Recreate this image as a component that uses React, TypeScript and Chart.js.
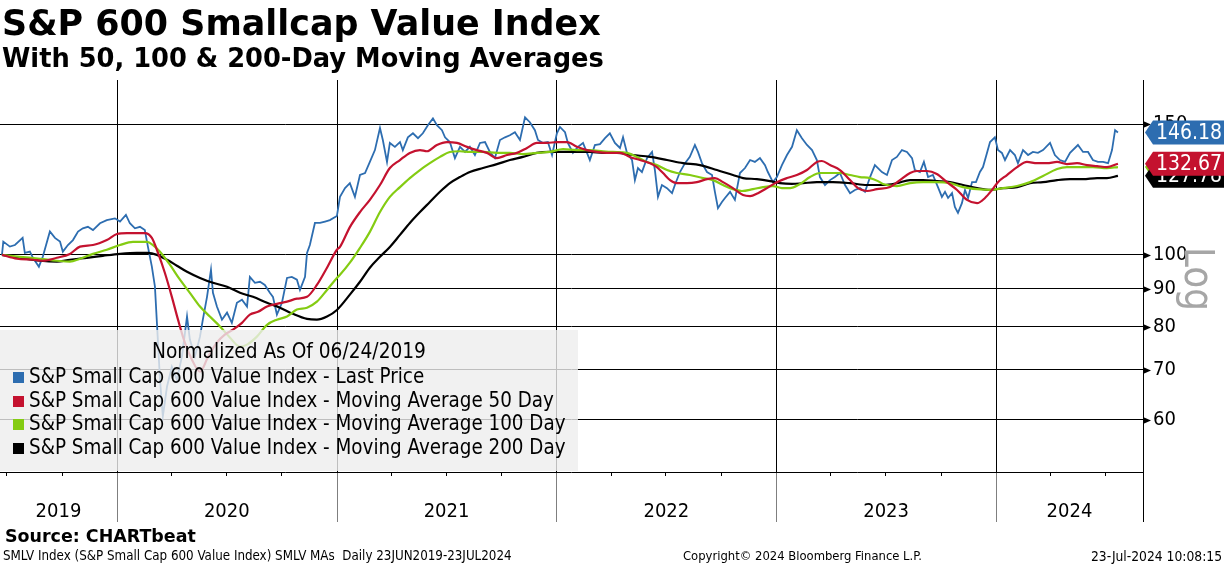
import { useEffect, useRef } from "react";
import { Chart, registerables } from "chart.js";

Chart.register(...registerables);

// ---------- DATA (time as decimal years) ----------
const priceDates = [
  2019.477, 2019.483, 2019.513, 2019.536, 2019.571, 2019.581, 2019.604, 2019.618, 2019.645, 2019.663,
  2019.695, 2019.718, 2019.741, 2019.754, 2019.777, 2019.8, 2019.823, 2019.845, 2019.868, 2019.891,
  2019.923, 2019.954, 2019.991, 2020.014, 2020.041, 2020.059, 2020.082, 2020.105, 2020.127, 2020.141,
  2020.159, 2020.173, 2020.182, 2020.196, 2020.209, 2020.228, 2020.25, 2020.273, 2020.296, 2020.319,
  2020.332, 2020.355, 2020.378, 2020.391, 2020.41, 2020.428, 2020.437, 2020.455, 2020.478, 2020.501,
  2020.523, 2020.546, 2020.569, 2020.592, 2020.605, 2020.628, 2020.651, 2020.673, 2020.696, 2020.71,
  2020.728, 2020.751, 2020.774, 2020.796, 2020.819, 2020.833, 2020.856, 2020.865, 2020.878, 2020.901,
  2020.924, 2020.947, 2020.969, 2021.001, 2021.015, 2021.038, 2021.06, 2021.083, 2021.106, 2021.129,
  2021.151, 2021.174, 2021.197, 2021.21, 2021.229, 2021.242, 2021.265, 2021.288, 2021.301, 2021.324,
  2021.347, 2021.37, 2021.392, 2021.415, 2021.438, 2021.456, 2021.479, 2021.493, 2021.515, 2021.538,
  2021.561, 2021.584, 2021.606, 2021.629, 2021.652, 2021.675, 2021.697, 2021.72, 2021.743, 2021.766,
  2021.788, 2021.811, 2021.834, 2021.857, 2021.879, 2021.902, 2021.916, 2021.939, 2021.961, 2021.98,
  2022.002, 2022.016, 2022.039, 2022.052, 2022.075, 2022.098, 2022.121, 2022.152, 2022.175, 2022.198,
  2022.221, 2022.243, 2022.266, 2022.289, 2022.303, 2022.321, 2022.344, 2022.357, 2022.371, 2022.389,
  2022.412, 2022.435, 2022.448, 2022.462, 2022.48, 2022.503, 2022.526, 2022.539, 2022.562, 2022.585,
  2022.607, 2022.63, 2022.644, 2022.662, 2022.685, 2022.708, 2022.721, 2022.735, 2022.753, 2022.767,
  2022.79, 2022.812, 2022.835, 2022.858, 2022.881, 2022.903, 2022.926, 2022.949, 2022.962, 2022.985,
  2023.003, 2023.026, 2023.049, 2023.072, 2023.094, 2023.117, 2023.14, 2023.163, 2023.185, 2023.199,
  2023.222, 2023.245, 2023.267, 2023.29, 2023.313, 2023.336, 2023.358, 2023.381, 2023.404, 2023.427,
  2023.449, 2023.463, 2023.481, 2023.504, 2023.527, 2023.549, 2023.572, 2023.595, 2023.618, 2023.631,
  2023.654, 2023.672, 2023.691, 2023.713, 2023.736, 2023.754, 2023.768, 2023.782, 2023.8, 2023.813,
  2023.827, 2023.845, 2023.859, 2023.873, 2023.891, 2023.909, 2023.927, 2023.941, 2023.959, 2023.973,
  2023.995, 2024.009, 2024.027, 2024.041, 2024.064, 2024.086, 2024.1, 2024.123, 2024.146, 2024.168,
  2024.191, 2024.214, 2024.246, 2024.268, 2024.291, 2024.314, 2024.337, 2024.373, 2024.396, 2024.419,
  2024.441, 2024.464, 2024.487, 2024.51, 2024.528, 2024.542, 2024.555,
];
const priceValues = [
  100.0, 104.2, 102.6, 103.1, 105.4, 100.6, 101.0, 99.1, 96.4, 99.5,
  107.5, 105.4, 104.2, 101.0, 103.1, 104.7, 107.5, 108.6, 109.1, 108.0,
  110.3, 111.4, 112.0, 110.9, 113.2, 110.3, 108.6, 109.1, 108.0, 102.6,
  96.4, 90.6, 81.0, 67.9, 60.6, 66.5, 70.7, 67.9, 73.0, 82.6,
  76.9, 73.0, 77.6, 81.8, 87.8, 95.5, 88.9, 85.2, 81.8, 83.6,
  81.0, 86.2, 87.0, 85.2, 93.4, 91.7, 92.0, 91.1, 88.9, 87.8,
  83.1, 86.2, 93.1, 93.4, 92.6, 89.7, 93.4, 100.6, 103.1, 110.4,
  110.4, 110.9, 111.4, 112.8, 119.7, 123.0, 124.9, 119.7, 128.1, 128.9,
  133.4, 138.4, 148.2, 142.8, 133.4, 141.5, 139.8, 141.9, 138.4, 144.0,
  145.8, 143.6, 145.8, 149.5, 152.7, 149.5, 147.2, 144.0, 141.9, 135.0,
  139.8, 137.6, 139.8, 136.3, 141.5, 141.9, 137.6, 135.0, 142.8, 144.0,
  144.9, 146.3, 142.8, 153.2, 150.9, 147.2, 142.8, 141.5, 141.9, 136.3,
  145.8, 148.7, 146.3, 141.5, 137.2, 139.8, 141.5, 134.2, 140.6, 141.0,
  143.6, 145.8, 141.5, 139.3, 144.0, 137.2, 134.2, 126.1, 130.9, 129.3,
  135.0, 137.6, 130.1, 119.7, 124.2, 123.0, 121.1, 124.2, 129.3, 132.9,
  135.5, 140.6, 137.6, 132.9, 129.3, 128.1, 121.6, 115.6, 117.8, 119.3,
  121.6, 118.6, 128.9, 130.9, 134.2, 133.4, 135.0, 132.1, 129.3, 125.3,
  127.3, 132.1, 136.3, 139.8, 147.2, 143.6, 140.6, 138.4, 134.2, 127.3,
  124.2, 126.1, 127.3, 128.9, 124.2, 121.1, 122.3, 123.0, 121.6, 127.3,
  132.1, 130.9, 129.3, 128.1, 134.2, 135.5, 138.4, 137.6, 135.0, 130.1,
  129.3, 133.4, 127.3, 128.1, 123.4, 119.7, 121.6, 119.3, 121.1, 116.0,
  113.9, 117.4, 122.3, 119.3, 125.3, 125.3, 129.3, 131.3, 137.2, 141.9,
  144.0, 138.4, 137.2, 134.2, 138.4, 136.3, 132.9, 138.4, 136.3, 137.6,
  137.2, 138.4, 141.5, 136.3, 134.2, 133.4, 137.2, 140.6, 137.6, 137.6,
  134.2, 133.4, 133.4, 132.9, 138.4, 147.2, 146.18,
];

const ma50Dates = [
  2019.477, 2019.545, 2019.618, 2019.663, 2019.727, 2019.786, 2019.832, 2019.891, 2019.954, 2020.0,
  2020.046, 2020.091, 2020.127, 2020.159, 2020.187, 2020.218, 2020.25, 2020.278, 2020.309, 2020.341,
  2020.378, 2020.414, 2020.455, 2020.491, 2020.528, 2020.569, 2020.605, 2020.642, 2020.683, 2020.728,
  2020.774, 2020.819, 2020.865, 2020.91, 2020.956, 2021.001, 2021.015, 2021.06, 2021.106, 2021.151,
  2021.197, 2021.242, 2021.288, 2021.333, 2021.379, 2021.411, 2021.456, 2021.502, 2021.547, 2021.593,
  2021.638, 2021.684, 2021.729, 2021.775, 2021.82, 2021.866, 2021.911, 2021.957, 2022.002, 2022.048,
  2022.093, 2022.139, 2022.184, 2022.23, 2022.289, 2022.334, 2022.38, 2022.426, 2022.457, 2022.485,
  2022.517, 2022.548, 2022.594, 2022.639, 2022.685, 2022.721, 2022.758, 2022.803, 2022.849, 2022.881,
  2022.917, 2022.958, 2023.003, 2023.049, 2023.094, 2023.14, 2023.185, 2023.208, 2023.245, 2023.29,
  2023.336, 2023.372, 2023.413, 2023.458, 2023.518, 2023.563, 2023.609, 2023.64, 2023.686, 2023.731,
  2023.777, 2023.823, 2023.868, 2023.914, 2023.95, 2023.982, 2024.009, 2024.05, 2024.096, 2024.141,
  2024.187, 2024.232, 2024.278, 2024.323, 2024.369, 2024.414, 2024.46, 2024.505, 2024.555,
];
const ma50Values = [
  100.0, 98.8, 98.5, 98.2, 99.1, 100.3, 102.6, 103.1, 104.7, 106.7,
  107.0, 107.0, 107.0, 105.4, 100.6, 94.6, 87.8, 81.8, 76.2, 72.3,
  69.6, 72.8, 76.2, 78.1, 79.3, 81.0, 83.1, 83.8, 85.2, 85.9,
  86.5, 87.3, 87.8, 91.1, 96.1, 101.6, 102.5, 109.0, 114.2, 118.6,
  124.2, 130.9, 134.2, 137.2, 138.4, 137.9, 140.6, 141.9, 141.5, 139.8,
  138.4, 137.2, 135.0, 136.3, 137.2, 139.3, 141.5, 141.5, 141.9, 141.9,
  139.8, 138.4, 137.6, 137.2, 137.2, 135.5, 134.2, 132.9, 131.3, 128.9,
  126.1, 124.9, 124.9, 125.3, 126.5, 126.9, 125.3, 123.0, 120.4, 120.0,
  121.1, 123.0, 125.3, 126.9, 128.1, 130.1, 133.4, 133.8, 132.1, 130.1,
  126.1, 123.0, 121.9, 122.6, 123.4, 126.1, 128.9, 129.7, 129.7, 128.5,
  125.3, 122.3, 118.6, 117.4, 119.3, 122.3, 125.3, 128.1, 131.3, 133.4,
  132.9, 132.9, 133.4, 132.5, 132.9, 132.1, 131.7, 131.3, 132.67,
];

const ma100Dates = [
  2019.477, 2019.559, 2019.65, 2019.727, 2019.786, 2019.832, 2019.891, 2019.954, 2020.014, 2020.073,
  2020.137, 2020.164, 2020.196, 2020.241, 2020.287, 2020.332, 2020.378, 2020.423, 2020.469, 2020.514,
  2020.56, 2020.592, 2020.637, 2020.683, 2020.728, 2020.774, 2020.819, 2020.865, 2020.91, 2020.956,
  2021.001, 2021.015, 2021.06, 2021.106, 2021.151, 2021.197, 2021.242, 2021.288, 2021.333, 2021.379,
  2021.424, 2021.47, 2021.515, 2021.561, 2021.606, 2021.666, 2021.729, 2021.788, 2021.848, 2021.911,
  2021.97, 2022.03, 2022.093, 2022.152, 2022.212, 2022.257, 2022.321, 2022.366, 2022.412, 2022.457,
  2022.503, 2022.548, 2022.607, 2022.667, 2022.712, 2022.758, 2022.803, 2022.844, 2022.894, 2022.94,
  2022.985, 2023.026, 2023.063, 2023.108, 2023.154, 2023.199, 2023.245, 2023.29, 2023.336, 2023.381,
  2023.427, 2023.463, 2023.486, 2023.549, 2023.609, 2023.668, 2023.731, 2023.791, 2023.85, 2023.914,
  2023.973, 2024.032, 2024.096, 2024.155, 2024.214, 2024.278, 2024.323, 2024.382, 2024.441, 2024.505,
  2024.555,
];
const ma100Values = [
  100.0, 99.4, 98.8, 98.2, 97.9, 98.8, 100.3, 101.6, 103.1, 104.1,
  104.1, 103.1, 101.0, 97.0, 92.6, 88.9, 85.2, 82.6, 80.1, 77.4,
  75.2, 75.7, 77.6, 80.5, 81.8, 82.6, 84.4, 84.9, 86.5, 89.7,
  93.1, 94.0, 97.6, 102.2, 107.4, 114.2, 119.7, 123.4, 126.9, 130.1,
  132.9, 135.5, 137.6, 137.9, 137.6, 137.6, 137.2, 137.2, 136.7, 137.2,
  137.6, 138.8, 138.4, 138.4, 137.9, 137.6, 137.2, 135.5, 133.4, 132.1,
  130.1, 128.9, 128.1, 126.9, 126.1, 124.2, 122.6, 121.9, 122.6, 123.4,
  123.8, 123.0, 123.0, 124.6, 127.3, 128.9, 128.9, 128.9, 128.1, 127.3,
  126.9, 125.7, 124.6, 123.8, 124.9, 125.3, 125.3, 124.9, 123.4, 122.6,
  122.3, 123.0, 123.8, 125.3, 127.7, 130.5, 131.3, 131.3, 131.3, 130.9,
  131.3,
];

const ma200Dates = [
  2019.477, 2019.559, 2019.65, 2019.727, 2019.786, 2019.863, 2019.936, 2020.014, 2020.091, 2020.141,
  2020.182, 2020.228, 2020.273, 2020.319, 2020.378, 2020.437, 2020.501, 2020.56, 2020.619, 2020.683,
  2020.742, 2020.801, 2020.865, 2020.91, 2020.956, 2021.001, 2021.06, 2021.106, 2021.151, 2021.197,
  2021.242, 2021.288, 2021.333, 2021.379, 2021.424, 2021.47, 2021.515, 2021.561, 2021.606, 2021.666,
  2021.729, 2021.788, 2021.848, 2021.911, 2021.97, 2022.03, 2022.093, 2022.152, 2022.212, 2022.275,
  2022.348, 2022.426, 2022.503, 2022.576, 2022.653, 2022.73, 2022.803, 2022.849, 2022.912, 2022.972,
  2023.017, 2023.072, 2023.122, 2023.185, 2023.258, 2023.336, 2023.413, 2023.486, 2023.549, 2023.609,
  2023.668, 2023.731, 2023.791, 2023.85, 2023.914, 2023.973, 2024.032, 2024.096, 2024.155, 2024.214,
  2024.278, 2024.337, 2024.396, 2024.46, 2024.505, 2024.555,
];
const ma200Values = [
  100.0, 99.1, 98.2, 97.9, 98.5, 99.1, 99.7, 100.3, 100.6, 100.6,
  100.0, 98.5, 96.7, 94.9, 93.1, 91.7, 90.6, 88.9, 87.8, 86.2,
  84.9, 83.3, 82.0, 81.8, 82.6, 84.3, 88.4, 92.0, 96.1, 99.4,
  102.5, 106.4, 110.4, 114.2, 117.8, 121.6, 124.9, 127.3, 129.3, 130.9,
  132.5, 134.2, 135.5, 137.2, 137.6, 137.6, 137.6, 137.6, 137.2, 137.2,
  136.3, 135.5, 134.2, 132.9, 132.1, 130.1, 128.1, 126.9, 126.5, 125.7,
  124.9, 124.6, 124.9, 125.3, 125.3, 124.9, 124.2, 124.2, 124.9, 126.1,
  126.1, 125.7, 125.3, 124.2, 123.0, 122.3, 123.0, 123.4, 124.9, 125.3,
  126.1, 126.5, 126.5, 126.9, 126.9, 127.78,
];

const yTicks = [60, 70, 80, 90, 100, 150];
const years = [2019, 2020, 2021, 2022, 2023, 2024];
const quarterStarts = [0.247, 0.496, 0.748];

const seriesLabels = [
  "S&P Small Cap 600 Value Index - Last Price",
  "S&P Small Cap 600 Value Index - Moving Average 50 Day",
  "S&P Small Cap 600 Value Index - Moving Average 100 Day",
  "S&P Small Cap 600 Value Index - Moving Average 200 Day",
];
const seriesColors = ["#2d6db0", "#c4122f", "#84cc12", "#000000"];

const titleText = "S&P 600 Smallcap Value Index";
const subtitleText = "With 50, 100 & 200-Day Moving Averages";
const legendHeader = "Normalized As Of 06/24/2019";
const sourceText = "Source: CHARTbeat";
const footerLeft = "SMLV Index (S&P Small Cap 600 Value Index) SMLV MAs  Daily 23JUN2019-23JUL2024";
const footerMid = "Copyright\u00a9 2024 Bloomberg Finance L.P.";
const footerRight = "23-Jul-2024 10:08:15";

const X_MIN = 2019.468;
const X_MAX = 2024.669;
const FONT = '"DejaVu Sans Condensed", "DejaVu Sans", sans-serif';
const FONT_BOLD = '"DejaVu Sans", sans-serif';

function pts(xs: number[], ys: number[]) {
  return xs.map((x, i) => ({ x, y: ys[i] }));
}

function fitText(
  ctx: CanvasRenderingContext2D,
  text: string,
  weight: string,
  target: number,
  family: string = FONT
) {
  ctx.font = `${weight} 20px ${family}`;
  const w = ctx.measureText(text).width;
  const size = (20 * target) / w;
  ctx.font = `${weight} ${size.toFixed(2)}px ${family}`;
  return size;
}

const decorPlugin = {
  id: "decor",
  beforeDatasetsDraw(chart: any) {
    const { ctx, chartArea: a, scales } = chart;
    const x = scales.x;
    ctx.save();
    ctx.lineWidth = 1;
    for (let i = 1; i < years.length; i++) {
      const px = Math.round(x.getPixelForValue(years[i])) + 0.5;
      ctx.strokeStyle = "#000";
      ctx.beginPath();
      ctx.moveTo(px, a.top);
      ctx.lineTo(px, a.bottom);
      ctx.stroke();
    }
    ctx.restore();
  },
  afterDatasetsDraw(chart: any) {
    const { ctx, chartArea: a } = chart;
    const bx = a.left, by = 330, bw = 578, bh = a.bottom - 330 - 1;
    ctx.save();
    ctx.fillStyle = "rgba(238,238,238,0.8)";
    ctx.fillRect(bx, by, bw, bh);
    ctx.fillStyle = "#000";
    ctx.textBaseline = "middle";
    ctx.textAlign = "center";
    fitText(ctx, legendHeader, "normal", 274);
    ctx.fillText(legendHeader, bx + bw / 2, 353);
    ctx.textAlign = "left";
    const size = fitText(ctx, seriesLabels[2], "normal", 537);
    ctx.font = `normal ${size.toFixed(2)}px ${FONT}`;
    const rowsY = [377, 401, 424, 448];
    seriesLabels.forEach((lbl, i) => {
      ctx.fillStyle = seriesColors[i];
      ctx.fillRect(13, rowsY[i] - 5, 11, 11);
      ctx.fillStyle = "#000";
      ctx.fillText(lbl, 29, rowsY[i] + 1);
    });
    ctx.restore();
  },
  afterDraw(chart: any) {
    const { ctx, chartArea: a, scales, width } = chart;
    const x = scales.x, y = scales.y;
    ctx.save();
    ctx.strokeStyle = "#000";
    ctx.lineWidth = 1;
    ctx.beginPath();
    ctx.moveTo(0, a.bottom + 0.5);
    ctx.lineTo(a.right, a.bottom + 0.5);
    ctx.stroke();
    ctx.beginPath();
    ctx.moveTo(a.right + 0.5, a.top);
    ctx.lineTo(a.right + 0.5, a.bottom + 50);
    ctx.stroke();
    ctx.strokeStyle = "#7f7f7f";
    for (let i = 1; i < years.length; i++) {
      const px = Math.round(x.getPixelForValue(years[i])) + 0.5;
      ctx.beginPath();
      ctx.moveTo(px, a.bottom + 1);
      ctx.lineTo(px, a.bottom + 50);
      ctx.stroke();
    }
    ctx.strokeStyle = "#000";
    years.forEach((yr) => {
      quarterStarts.forEach((q) => {
        const v = yr + q;
        if (v <= X_MIN || v >= X_MAX) return;
        const px = Math.round(x.getPixelForValue(v)) + 0.5;
        ctx.beginPath();
        ctx.moveTo(px, a.bottom);
        ctx.lineTo(px, a.bottom + 4);
        ctx.stroke();
      });
    });
    ctx.fillStyle = "#000";
    ctx.textAlign = "center";
    ctx.textBaseline = "middle";
    ctx.font = `normal 20px ${FONT}`;
    years.forEach((yr) => {
      const l = Math.max(x.getPixelForValue(yr), a.left);
      const r = Math.min(x.getPixelForValue(yr + 1), a.right);
      ctx.fillText(String(yr), (l + r) / 2, 512);
    });
    yTicks.forEach((v) => {
      const py = Math.round(y.getPixelForValue(v)) + 0.5;
      ctx.beginPath();
      ctx.moveTo(a.right, py - 3.5);
      ctx.lineTo(a.right + 8, py);
      ctx.lineTo(a.right, py + 3.5);
      ctx.closePath();
      ctx.fill();
    });
    ctx.save();
    ctx.translate(1185, 247);
    ctx.rotate(Math.PI / 2);
    ctx.fillStyle = "#a6a6a6";
    ctx.textAlign = "left";
    ctx.textBaseline = "alphabetic";
    ctx.font = `normal 40px ${FONT}`;
    ctx.fillText("Log", 0, 0);
    ctx.restore();
    const lasts = [
      { v: ma100Values[ma100Values.length - 1], c: seriesColors[2] },
      { v: ma200Values[ma200Values.length - 1], c: seriesColors[3] },
      { v: ma50Values[ma50Values.length - 1], c: seriesColors[1] },
      { v: priceValues[priceValues.length - 1], c: seriesColors[0] },
    ];
    lasts.forEach(({ v, c }) => {
      const yc = y.getPixelForValue(v);
      ctx.fillStyle = c;
      ctx.beginPath();
      ctx.moveTo(a.right + 2, yc);
      ctx.lineTo(a.right + 10, yc - 12);
      ctx.lineTo(width, yc - 12);
      ctx.lineTo(width, yc + 12);
      ctx.lineTo(a.right + 10, yc + 12);
      ctx.closePath();
      ctx.fill();
      ctx.fillStyle = "#fff";
      ctx.textAlign = "left";
      ctx.textBaseline = "middle";
      ctx.font = `normal 21px ${FONT}`;
      ctx.fillText(v.toFixed(2), a.right + 13, yc + 1);
    });
    ctx.fillStyle = "#000";
    ctx.textAlign = "left";
    ctx.textBaseline = "alphabetic";
    fitText(ctx, titleText, "bold", 599, FONT_BOLD);
    ctx.fillText(titleText, 2, 35);
    fitText(ctx, subtitleText, "bold", 602, FONT_BOLD);
    ctx.fillText(subtitleText, 2, 67);
    ctx.textBaseline = "middle";
    fitText(ctx, sourceText, "bold", 191, FONT_BOLD);
    ctx.fillText(sourceText, 5, 537);
    fitText(ctx, footerLeft, "normal", 509);
    ctx.fillText(footerLeft, 3, 557);
    fitText(ctx, footerMid, "normal", 239);
    ctx.fillText(footerMid, 683, 557);
    ctx.textAlign = "right";
    fitText(ctx, footerRight, "normal", 131);
    ctx.fillText(footerRight, 1222, 557);
    ctx.restore();
  },
};

export default function App() {
  const ref = useRef<HTMLCanvasElement | null>(null);
  useEffect(() => {
    document.body.style.margin = "0";
    const canvas = ref.current;
    if (!canvas) return;
    const chart = new Chart(canvas, {
      type: "line",
      data: {
        datasets: [
          {
            label: seriesLabels[1],
            data: pts(ma50Dates, ma50Values),
            borderColor: seriesColors[1],
            borderWidth: 2.2,
            pointRadius: 0,
            cubicInterpolationMode: "monotone",
            order: 1,
          },
          {
            label: seriesLabels[2],
            data: pts(ma100Dates, ma100Values),
            borderColor: seriesColors[2],
            borderWidth: 2.2,
            pointRadius: 0,
            cubicInterpolationMode: "monotone",
            order: 2,
          },
          {
            label: seriesLabels[3],
            data: pts(ma200Dates, ma200Values),
            borderColor: seriesColors[3],
            borderWidth: 2.2,
            pointRadius: 0,
            cubicInterpolationMode: "monotone",
            order: 3,
          },
          {
            label: seriesLabels[0],
            data: pts(priceDates, priceValues),
            borderColor: seriesColors[0],
            borderWidth: 1.8,
            pointRadius: 0,
            tension: 0,
            order: 4,
          },
        ],
      },
      options: {
        responsive: false,
        animation: false,
        devicePixelRatio: 1,
        layout: { padding: { top: 80, bottom: 94, left: 0, right: 0 } },
        plugins: {
          legend: { display: false },
          title: { display: false },
          tooltip: { enabled: false },
        },
        scales: {
          x: {
            type: "linear",
            min: X_MIN,
            max: X_MAX,
            display: false,
          },
          y: {
            type: "logarithmic",
            position: "right",
            min: 51,
            max: 172,
            afterBuildTicks: (s: any) => {
              s.ticks = yTicks.map((v) => ({ value: v }));
            },
            afterFit: (s: any) => {
              s.width = 81;
            },
            grid: { color: "#000", lineWidth: 1, drawTicks: false },
            border: { display: false },
            ticks: {
              color: "#000",
              padding: 10,
              font: { family: FONT, size: 20 },
              callback: (v: any) => String(v),
            },
          },
        },
      },
      plugins: [decorPlugin],
    } as any);
    return () => chart.destroy();
  }, []);
  return (
    <div style={{ width: 1224, height: 566 }}>
      <canvas ref={ref} width={1224} height={566} style={{ display: "block" }} />
    </div>
  );
}
